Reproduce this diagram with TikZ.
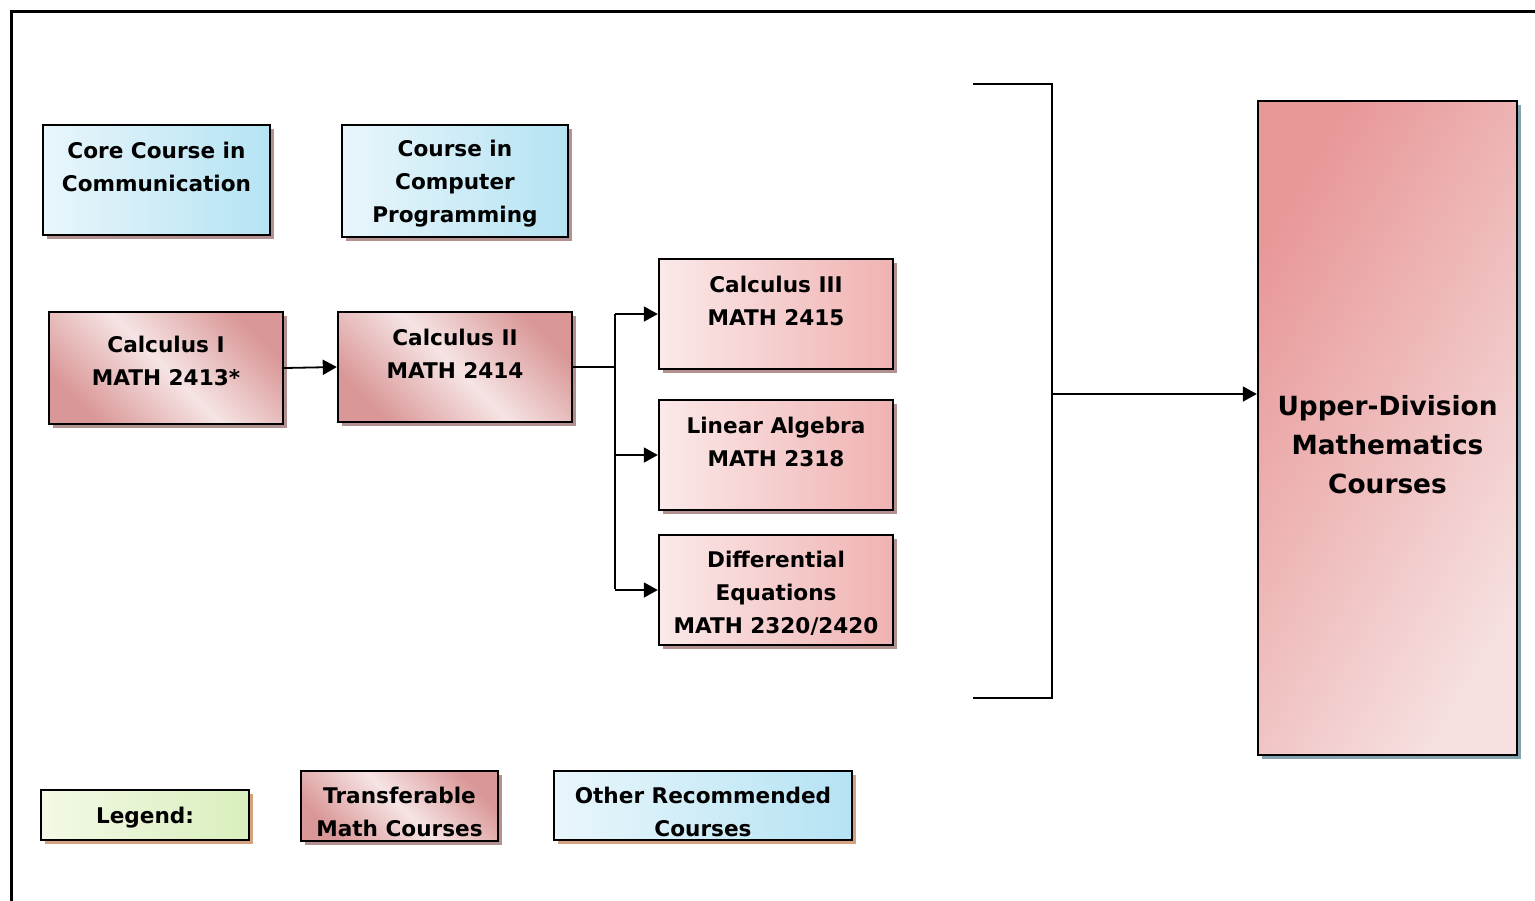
\documentclass[tikz,border=0pt]{standalone}
\usepackage{fontspec}
\setmainfont{DejaVu Sans}
\usetikzlibrary{arrows.meta,shadows}
\definecolor{pkdark}{HTML}{DA9797}
\definecolor{pklight}{HTML}{F6E4E4}
\definecolor{pkleft}{HTML}{FBE9E9}
\definecolor{pkright}{HTML}{F0B2B2}
\definecolor{uptl}{HTML}{E89797}
\definecolor{upbr}{HTML}{F6E0E0}
\definecolor{blleft}{HTML}{E9F6FB}
\definecolor{blright}{HTML}{B5E3F3}
\definecolor{grleft}{HTML}{F3F9E6}
\definecolor{grright}{HTML}{D9EFBD}
\definecolor{shmauve}{HTML}{B39191}
\definecolor{shtan}{HTML}{D4A27F}
\definecolor{shblue}{HTML}{84A3AF}
\tikzset{
  box/.style={draw=black, line width=1.2pt, inner sep=0pt, align=center,
    font=\fontsize{10.8}{16.5}\selectfont\bfseries},
  shm/.style={drop shadow={shadow xshift=2.2pt, shadow yshift=-2.2pt, fill=shmauve, opacity=1}},
  sht/.style={drop shadow={shadow xshift=2.2pt, shadow yshift=-2.2pt, fill=shtan, opacity=1}},
  shb/.style={drop shadow={shadow xshift=2.2pt, shadow yshift=-2.2pt, fill=shblue, opacity=1}},
  diagpink/.style={top color=pkdark, bottom color=pkdark, middle color=pklight, shading angle=-45},
  horpink/.style={left color=pkleft, right color=pkright},
  blue/.style={left color=blleft, right color=blright},
  green/.style={left color=grleft, right color=grright},
  conn/.style={line width=0.9pt, draw=black},
  arr/.style={conn, -{Triangle[length=7pt,width=7.5pt]}}
}
\begin{document}
\begin{tikzpicture}[x=0.5pt,y=-0.5pt]
\useasboundingbox (0,0) rectangle (1535,900);
% outer frame
\coordinate (f1) at (11,905);
\coordinate (f2) at (11,11);
\coordinate (f3) at (1540,11);
\draw[line width=1.5pt] (f1) -- (f2) -- (f3);

% blue courses
\node[box, blue, shm, minimum width=113.5pt, minimum height=55pt] (comm) at (156.5,180) {\rule{0pt}{11pt}Core Course in\\Communication\\\mbox{}};
\node[box, blue, shm, minimum width=113pt, minimum height=56pt] (prog) at (455,181) {\rule{0pt}{11pt}Course in\\Computer\\Programming};

% calculus
\node[box, diagpink, shm, minimum width=117pt, minimum height=56pt] (c1) at (166,368) {Calculus I\\MATH 2413*\rule[-7pt]{0pt}{1pt}};
\node[box, diagpink, shm, minimum width=117pt, minimum height=55pt] (c2) at (455,367) {\rule{0pt}{11pt}Calculus II\\MATH 2414\\\mbox{}};

\node[box, horpink, shm, minimum width=117pt, minimum height=55pt] (c3) at (776,314) {\rule{0pt}{11pt}Calculus III\\MATH 2415\\\mbox{}};
\node[box, horpink, shm, minimum width=117pt, minimum height=55pt] (la) at (776,455) {\rule{0pt}{11pt}Linear Algebra\\MATH 2318\\\mbox{}};
\node[box, horpink, shm, minimum width=117pt, minimum height=55pt] (de) at (776,590) {\rule{0pt}{11pt}Differential\\Equations\\MATH 2320/2420};

% upper division
\node[box, shb, minimum width=129.5pt, minimum height=327pt,
  shading=axis, top color=uptl, bottom color=upbr, shading angle=60,
  font=\fontsize{13.2}{19.5}\selectfont\bfseries] (up) at (1387.5,428) {\rule{0pt}{27pt}Upper-Division\\Mathematics\\Courses};

% legend
\node[box, green, sht, minimum width=104pt, minimum height=25pt] (leg) at (145,815) {\rule{0pt}{11.2pt}Legend:};
\node[box, diagpink, shm, minimum width=98.5pt, minimum height=35pt] (tr) at (399.5,806) {\rule{0pt}{14.2pt}Transferable\\Math Courses};
\node[box, blue, sht, minimum width=149pt, minimum height=34.5pt] (oth) at (703,805.5) {\rule{0pt}{14.2pt}Other Recommended\\Courses};

% connectors
\draw[arr] (c1.east) -- (c2.west);
\coordinate (spT) at (615,314);
\coordinate (spB) at (615,589);
\draw[conn] (c2.east) -- (c2.east -| spT);
\draw[conn] (spT) -- (spB);
\draw[arr] (c3.west -| spT) -- (c3.west);
\draw[arr] (la.west -| spT) -- (la.west);
\draw[arr] (de.west -| spT) -- (de.west);

% bracket
\coordinate (b1) at (973,84);
\coordinate (b2) at (1052,84);
\coordinate (b3) at (1052,698);
\coordinate (b4) at (973,698);
\coordinate (bm) at (1052,394);
\draw[conn] (b1) -- (b2) -- (b3) -- (b4);
\draw[arr] (bm) -- (bm -| up.west);
\end{tikzpicture}
\end{document}
